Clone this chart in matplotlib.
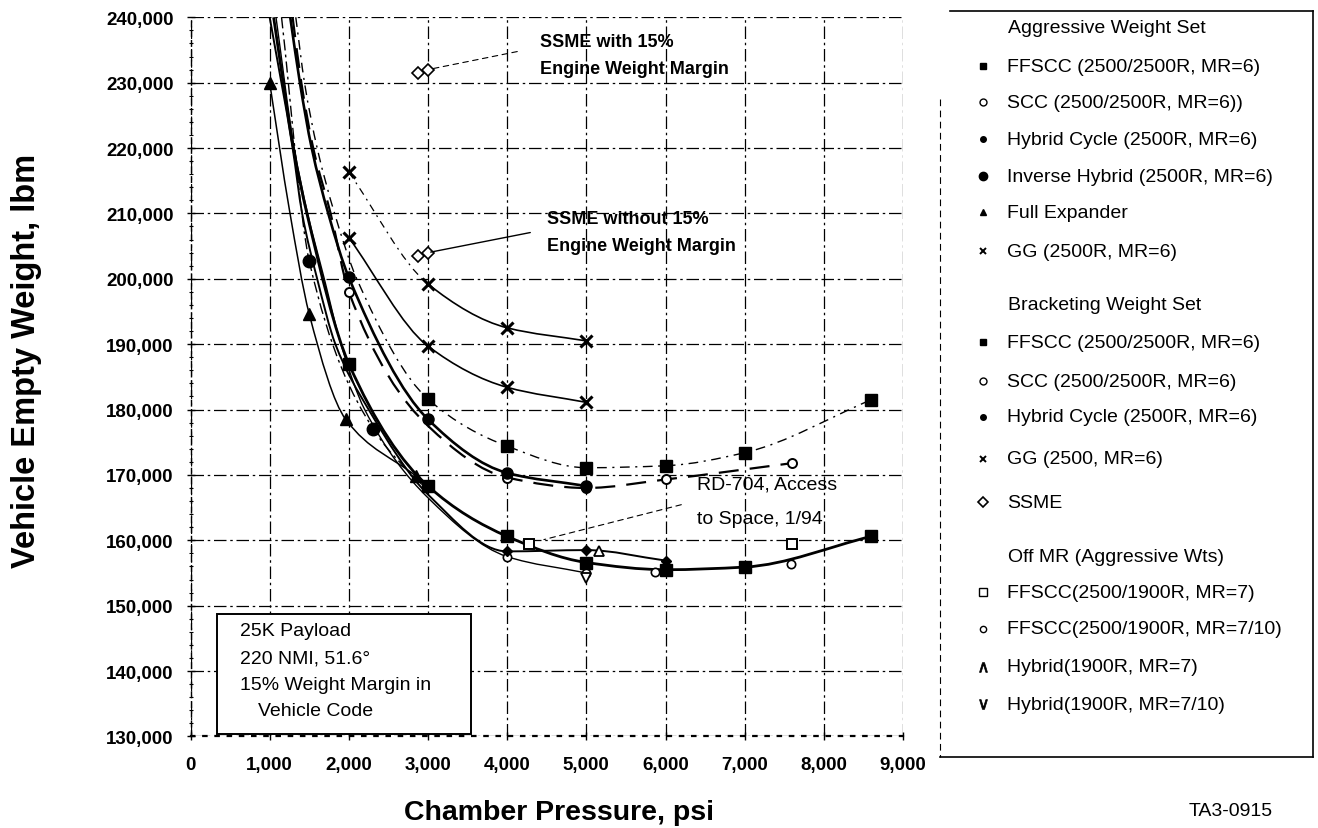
import numpy as np
import matplotlib
matplotlib.use("Agg")
import matplotlib.pyplot as plt
from matplotlib.path import Path
from matplotlib.patches import PathPatch, Rectangle

plt.rcParams['font.family'] = ['Liberation Sans', 'DejaVu Sans']

# ---------------- data ----------------
x_ticks = [0, 1000, 2000, 3000, 4000, 5000, 6000, 7000, 8000, 9000]
y_ticks = [130000, 140000, 150000, 160000, 170000, 180000, 190000, 200000,
           210000, 220000, 230000, 240000]

# Aggressive weight set
a_ffscc_x = [1050, 1300, 1470, 2000, 3000, 4000, 5000, 6000, 7000, 8600]
a_ffscc_y = [240000, 220000, 210000, 187000, 168300, 160600, 156600, 155500, 155900, 160600]
a_ffscc_pts = [3, 4, 5, 6, 7, 8, 9]

a_scc_x = [1080, 1310, 1480, 1690, 1900, 2200, 3000, 4000, 5000]
a_scc_y = [240000, 220000, 210000, 200000, 190000, 180000, 166500, 157500, 155000]
a_scc_pts = [7, 8]

a_hyb_x = [1000, 1290, 1410, 1600, 1830, 2250, 3000, 4000, 5000, 6000]
a_hyb_y = [240000, 220000, 210000, 200000, 190000, 180000, 167000, 158300, 158500, 156900]
a_hyb_pts = [7, 8, 9]

a_ih_x = [1150, 1500, 2310, 3000]
a_ih_y = [240000, 202700, 177000, 167500]
a_ih_pts = [1, 2]

a_fe_x = [1000, 1250, 1500, 1960, 2850]
a_fe_y = [230000, 210500, 194600, 178500, 169800]
a_fe_pts = [0, 2, 3, 4]

a_gg_x = [2000, 3000, 4000, 5000]
a_gg_y = [206300, 189700, 183400, 181100]

# Bracketing weight set
b_ffscc_x = [1330, 1440, 1600, 1820, 2100, 3000, 4000, 5000, 6000, 7000, 8600]
b_ffscc_y = [240000, 230000, 220000, 210000, 200000, 181600, 174400, 171100, 171400, 173400, 181500]
b_ffscc_pts = [5, 6, 7, 8, 9, 10]

b_scc_x = [1290, 1400, 1550, 1770, 2000, 3000, 4000, 5000, 6000, 7600]
b_scc_y = [240000, 230000, 220000, 210000, 198000, 177500, 169600, 168000, 169300, 171800]
b_scc_pts = [4, 6, 7, 8, 9]

b_hyb_x = [1260, 1382, 1531, 1740, 2000, 3000, 4000, 5000]
b_hyb_y = [240000, 230000, 220000, 210000, 200200, 178500, 170300, 168300]
b_hyb_pts = [4, 5, 6, 7]

b_gg_x = [2000, 3000, 4000, 5000]
b_gg_y = [216300, 199200, 192500, 190500]

# SSME
ssme_x = [2870, 3000]
ssme_margin_y = [231500, 232000]
ssme_nomargin_y = [203500, 204000]

# Off MR (aggressive weights)
om_ffscc7_x = [4270, 7600]
om_ffscc7_y = [159500, 159400]
om_ffscc710_x = [5870, 7580]
om_ffscc710_y = [155100, 156300]
om_hyb7_x = [5160]
om_hyb7_y = [158300]
om_hyb710_x = [5000]
om_hyb710_y = [154300]

rd704_point = (4430, 160000)

legend_rows = [
    ("header", "Aggressive Weight Set"),
    ("a_ffscc", "FFSCC (2500/2500R, MR=6)"),
    ("a_scc", "SCC (2500/2500R, MR=6))"),
    ("a_hyb", "Hybrid Cycle (2500R, MR=6)"),
    ("a_ih", "Inverse Hybrid (2500R, MR=6)"),
    ("a_fe", "Full Expander"),
    ("a_gg", "GG (2500R, MR=6)"),
    ("header", "Bracketing Weight Set"),
    ("b_ffscc", "FFSCC (2500/2500R, MR=6)"),
    ("b_scc", "SCC (2500/2500R, MR=6)"),
    ("b_hyb", "Hybrid Cycle (2500R, MR=6)"),
    ("b_gg", "GG (2500, MR=6)"),
    ("ssme", "SSME"),
    ("header", "Off MR (Aggressive Wts)"),
    ("om7", "FFSCC(2500/1900R, MR=7)"),
    ("om710", "FFSCC(2500/1900R, MR=7/10)"),
    ("oh7", "Hybrid(1900R, MR=7)"),
    ("oh710", "Hybrid(1900R, MR=7/10)"),
]
legend_row_y = [28, 67, 103, 140, 177, 213, 252, 305, 343, 382, 418, 460, 503,
                557, 593, 630, 668, 705]

# ---------------- figure ----------------
W, H = 1318, 829
fig = plt.figure(figsize=(W / 100, H / 100), dpi=100)
ax = fig.add_axes([190.5 / W, 1 - 737.4 / H, (903 - 190.5) / W, (737.4 - 18.3) / H])
ax.set_xlim(0, 9000)
ax.set_ylim(130000, 240000)


def smooth(xs, ys, segs=None, **kw):
    """Draw a smooth monotone-cubic (Bezier) curve through the given points."""
    x = np.asarray(xs, float)
    y = np.asarray(ys, float)
    h = np.diff(x)
    d = np.diff(y) / h
    n = len(x)
    m = np.zeros(n)
    m[0] = d[0]
    m[-1] = d[-1]
    for k in range(1, n - 1):
        if d[k - 1] * d[k] > 0:
            w1 = 2 * h[k] + h[k - 1]
            w2 = h[k] + 2 * h[k - 1]
            m[k] = (w1 + w2) / (w1 / d[k - 1] + w2 / d[k])
    k0, k1 = (0, n - 1) if segs is None else segs
    verts = [(x[k0], y[k0])]
    codes = [Path.MOVETO]
    for k in range(k0, k1):
        verts += [(x[k] + h[k] / 3, y[k] + m[k] * h[k] / 3),
                  (x[k + 1] - h[k] / 3, y[k + 1] - m[k + 1] * h[k] / 3),
                  (x[k + 1], y[k + 1])]
        codes += [Path.CURVE4] * 3
    ax.add_patch(PathPatch(Path(verts, codes), fill=False, edgecolor='black',
                           zorder=2, **kw))


def marks(xs, ys, idx, **kw):
    xs = np.asarray(xs)
    ys = np.asarray(ys)
    if idx is not None:
        xs = xs[idx]
        ys = ys[idx]
    ax.plot(xs, ys, linestyle='none', color='black', zorder=3, **kw)


mk = {
    'a_ffscc': dict(marker='s', ms=8, mfc='black', mec='black'),
    'a_scc': dict(marker='o', ms=6, mfc='white', mec='black', mew=1.2),
    'a_hyb': dict(marker='D', ms=5.5, mfc='black', mec='black'),
    'a_ih': dict(marker='o', ms=9, mfc='black', mec='black'),
    'a_fe': dict(marker='^', ms=8, mfc='black', mec='black'),
    'a_gg': dict(marker='x', ms=8, mew=2.2, mec='black'),
    'b_ffscc': dict(marker='s', ms=8, mfc='black', mec='black'),
    'b_scc': dict(marker='o', ms=6.5, mfc='white', mec='black', mew=1.4),
    'b_hyb': dict(marker='o', ms=8, mfc='black', mec='black'),
    'b_gg': dict(marker='x', ms=8, mew=2.2, mec='black'),
    'ssme': dict(marker='D', ms=6, mfc='white', mec='black', mew=1.2),
    'om7': dict(marker='s', ms=7, mfc='white', mec='black', mew=1.4),
    'om710': dict(marker='o', ms=6, mfc='white', mec='black', mew=1.2),
    'oh7': dict(marker='^', ms=7, mfc='white', mec='black', mew=1.3),
    'oh710': dict(marker='v', ms=7, mfc='white', mec='black', mew=1.3),
}

# curves
smooth(a_ffscc_x, a_ffscc_y, lw=2.0)
smooth(a_scc_x, a_scc_y, lw=1.0)
smooth(a_hyb_x, a_hyb_y, lw=1.4)
smooth(a_ih_x, a_ih_y, lw=1.0, linestyle=(0, (8, 3, 2, 3)))
smooth(a_fe_x, a_fe_y, lw=1.1)
smooth(a_gg_x, a_gg_y, lw=1.2)
smooth(b_ffscc_x, b_ffscc_y, lw=1.0, linestyle=(0, (7, 4, 1.5, 4)))
smooth(b_scc_x, b_scc_y, lw=1.6, linestyle=(0, (9, 5)))
smooth(b_hyb_x, b_hyb_y, lw=1.9)
smooth(b_gg_x, b_gg_y, segs=(0, 1), lw=0.9, linestyle=(0, (6, 4, 1.5, 4)))
smooth(b_gg_x, b_gg_y, segs=(1, 3), lw=1.2)

marks(a_ffscc_x, a_ffscc_y, a_ffscc_pts, **mk['a_ffscc'])
marks(a_scc_x, a_scc_y, a_scc_pts, **mk['a_scc'])
marks(a_hyb_x, a_hyb_y, a_hyb_pts, **mk['a_hyb'])
marks(a_ih_x, a_ih_y, a_ih_pts, **mk['a_ih'])
marks(a_fe_x, a_fe_y, a_fe_pts, **mk['a_fe'])
marks(a_gg_x, a_gg_y, None, **mk['a_gg'])
marks(b_ffscc_x, b_ffscc_y, b_ffscc_pts, **mk['b_ffscc'])
marks(b_scc_x, b_scc_y, b_scc_pts, **mk['b_scc'])
marks(b_hyb_x, b_hyb_y, b_hyb_pts, **mk['b_hyb'])
marks(b_gg_x, b_gg_y, None, **mk['b_gg'])

ax.plot(ssme_x, ssme_margin_y, color='black', lw=1.0, zorder=2, **mk['ssme'])
ax.plot(ssme_x, ssme_nomargin_y, color='black', lw=1.0, zorder=2, **mk['ssme'])
marks(om_ffscc7_x, om_ffscc7_y, None, **mk['om7'])
marks(om_ffscc710_x, om_ffscc710_y, None, **mk['om710'])
marks(om_hyb7_x, om_hyb7_y, None, **mk['oh7'])
marks(om_hyb710_x, om_hyb710_y, None, **mk['oh710'])

# annotations (leaders)
ax.annotate('', xy=(ssme_x[-1], ssme_margin_y[-1]), xycoords='data',
            xytext=(520, H - 52), textcoords='figure pixels',
            arrowprops=dict(arrowstyle='-', lw=0.8, linestyle=(0, (5, 4)), color='black'))
ax.annotate('', xy=(ssme_x[-1], ssme_nomargin_y[-1]), xycoords='data',
            xytext=(533, H - 233), textcoords='figure pixels',
            arrowprops=dict(arrowstyle='-', lw=1.0, color='black'))
ax.annotate('', xy=rd704_point, xycoords='data',
            xytext=(684, H - 505), textcoords='figure pixels',
            arrowprops=dict(arrowstyle='-', lw=0.8, linestyle=(0, (5, 4)), color='black'))

# axes styling
ax.set_xticks(x_ticks, [f"{v:,}" for v in x_ticks], fontweight='bold', fontsize=13.5)
ax.set_yticks(y_ticks, [f"{v:,}" for v in y_ticks], fontweight='bold', fontsize=13.5)
ax.set_yticks(np.arange(y_ticks[0], y_ticks[-1] + 1, 2000), minor=True)
ax.tick_params(axis='both', which='major', direction='inout', length=6, width=1.0,
               pad=9, color='black')
ax.tick_params(axis='x', which='major', pad=11)
ax.tick_params(axis='y', which='minor', direction='inout', length=3, width=0.8)
ax.set_axisbelow(True)
ax.grid(True, which='major', color='black', lw=0.9, linestyle=(0, (10, 3, 2, 3)))
for s in ['top', 'right']:
    ax.spines[s].set_visible(False)
ax.spines['left'].set_linestyle((0, (4, 3)))
ax.spines['left'].set_linewidth(1.0)
ax.spines['bottom'].set_linestyle((0, (1.5, 4)))
ax.spines['bottom'].set_linewidth(1.6)

# overlay in figure pixels
ov = fig.add_axes([0, 0, 1, 1])
ov.set_xlim(0, W)
ov.set_ylim(H, 0)
ov.axis('off')
ov.patch.set_alpha(0)

# text box in plot
ov.add_patch(Rectangle((217, 615), 254, 120, fc='white', ec='black', lw=1.4, zorder=5))
for ty, tx, s in [(632, 240, "25K Payload"), (659, 240, "220 NMI, 51.6°"),
                  (685, 240, "15% Weight Margin in"), (711, 258, "Vehicle Code")]:
    ov.text(tx, ty, s, fontsize=14, va='center', ha='left', zorder=6)

# SSME / RD-704 texts
ov.text(540, 42, "SSME with 15%", fontsize=13, weight='bold', va='center')
ov.text(540, 69, "Engine Weight Margin", fontsize=13, weight='bold', va='center')
ov.text(547, 219, "SSME without 15%", fontsize=13, weight='bold', va='center')
ov.text(547, 246, "Engine Weight Margin", fontsize=13, weight='bold', va='center')
ov.text(697, 485, "RD-704, Access", fontsize=14, va='center')
ov.text(697, 520, "to Space, 1/94", fontsize=14, va='center')

# legend box
ov.plot([950, 1313], [12, 12], color='black', lw=1.2)
ov.plot([1313, 1313], [12, 758], color='black', lw=1.2)
ov.plot([940, 1313], [758, 758], color='black', lw=1.2)
ov.plot([940, 940], [100, 758], color='black', lw=0.8, linestyle=(0, (6, 4)))

leg_mk = {
    'a_ffscc': dict(marker='s', ms=5, mfc='black', mec='black'),
    'a_scc': dict(marker='o', ms=5, mfc='white', mec='black', mew=1.0),
    'a_hyb': dict(marker='o', ms=4, mfc='black', mec='black'),
    'a_ih': dict(marker='o', ms=6, mfc='black', mec='black'),
    'a_fe': dict(marker='^', ms=5, mfc='black', mec='black'),
    'a_gg': dict(marker='x', ms=5, mew=1.4, mec='black'),
    'b_ffscc': dict(marker='s', ms=5, mfc='black', mec='black'),
    'b_scc': dict(marker='o', ms=5, mfc='white', mec='black', mew=1.0),
    'b_hyb': dict(marker='o', ms=4, mfc='black', mec='black'),
    'b_gg': dict(marker='x', ms=5, mew=1.4, mec='black'),
    'ssme': dict(marker='D', ms=5, mfc='white', mec='black', mew=1.2),
    'om7': dict(marker='s', ms=5.5, mfc='white', mec='black', mew=1.0),
    'om710': dict(marker='o', ms=4.5, mfc='white', mec='black', mew=1.0),
    'oh7': dict(marker=r'$\wedge$', ms=7, mfc='black', mec='black', mew=0.5),
    'oh710': dict(marker=r'$\vee$', ms=7, mfc='black', mec='black', mew=0.5),
}
for (key, label), ry in zip(legend_rows, legend_row_y):
    if key == 'header':
        ov.text(1008, ry, label, fontsize=14, va='center', ha='left')
    else:
        ov.plot([983], [ry], linestyle='none', color='black', **leg_mk[key])
        ov.text(1007, ry, label, fontsize=14, va='center', ha='left')

# axis titles and tag
fig.text(27 / W, 1 - 361 / H, "Vehicle Empty Weight, lbm", rotation=90, fontsize=23.5,
         weight='bold', ha='center', va='center')
fig.text(559 / W, 1 - 813 / H, "Chamber Pressure, psi", fontsize=20.5, weight='bold',
         ha='center', va='center')
fig.text(1231 / W, 1 - 812 / H, "TA3-0915", fontsize=14, ha='center', va='center')

fig.savefig("out.png", dpi=100)
